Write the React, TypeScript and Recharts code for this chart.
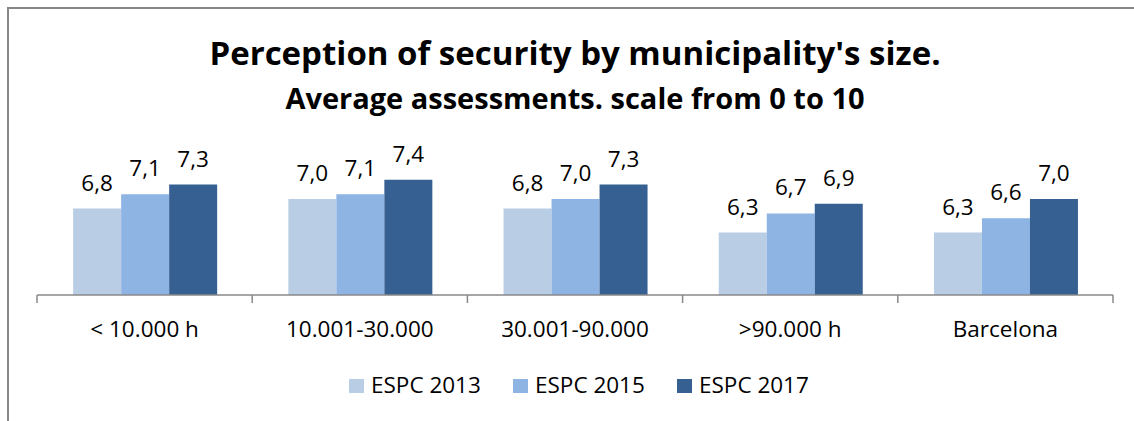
import { BarChart, Bar, XAxis, YAxis, Legend, LabelList } from 'recharts';

const categories = ['< 10.000 h', '10.001-30.000', '30.001-90.000', '>90.000 h', 'Barcelona'];
const espc2013 = [6.8, 7.0, 6.8, 6.3, 6.3];
const espc2015 = [7.1, 7.1, 7.0, 6.7, 6.6];
const espc2017 = [7.3, 7.4, 7.3, 6.9, 7.0];
const seriesNames = ['ESPC 2013', 'ESPC 2015', 'ESPC 2017'];
const seriesColors = ['#B9CDE5', '#8EB4E3', '#376092'];

const data = categories.map((name, i) => ({
  name,
  s2013: espc2013[i],
  s2015: espc2015[i],
  s2017: espc2017[i],
}));

const FONT = "'Open Sans', sans-serif";
const W = 1134;
const H = 421;
const MARGIN = { top: 151, right: 21, bottom: 22, left: 37 };
const BAND = (W - MARGIN.left - MARGIN.right) / categories.length;
const TICK_MARGIN = 26;
const fmt = (v: any) => Number(v).toFixed(1).replace('.', ',');

// category label plus Excel-style tick marks on the category boundaries
function CategoryTick(props: any) {
  const { x, y, payload, index } = props;
  const axisY = y - TICK_MARGIN;
  const last = index === categories.length - 1;
  return (
    <g>
      <line x1={x - BAND / 2} x2={x - BAND / 2} y1={axisY} y2={axisY + 8} stroke="#898989" strokeWidth={1.5} />
      {last && <line x1={x + BAND / 2} x2={x + BAND / 2} y1={axisY} y2={axisY + 8} stroke="#898989" strokeWidth={1.5} />}
      <text x={x} y={y} dy="0.71em" textAnchor="middle" fill="#000" fontSize={22.5} fontFamily={FONT}>
        {payload.value}
      </text>
    </g>
  );
}

function LegendContent(props: any) {
  const items = props.payload || [];
  return (
    <div style={{ display: 'flex', height: 30, alignItems: 'center', paddingLeft: 312, fontFamily: FONT, fontSize: 22.5 }}>
      {items.map((it: any) => (
        <div key={it.value} style={{ width: 164, display: 'flex', alignItems: 'center' }}>
          <span style={{ width: 15, height: 14, background: it.color, marginRight: 7, position: 'relative', top: 2 }} />
          <span style={{ color: '#000' }}>{it.value}</span>
        </div>
      ))}
    </div>
  );
}

export default function App() {
  const keys = ['s2013', 's2015', 's2017'];
  return (
    <div style={{ position: 'absolute', left: 0, top: 0, width: W, height: H, overflow: 'hidden', background: '#fff' }}>
      <div style={{ position: 'absolute', left: 7, top: 7, width: 1140, height: 420, borderTop: '2px solid #878787', borderLeft: '2px solid #878787' }} />
      <div style={{ position: 'absolute', left: 75, top: 30, width: 1000, textAlign: 'center', fontFamily: FONT, fontWeight: 700, fontSize: 33, color: '#000' }}>
        Perception of security by municipality's size.
      </div>
      <div style={{ position: 'absolute', left: 75, top: 78, width: 1000, textAlign: 'center', fontFamily: FONT, fontWeight: 700, fontSize: 29, color: '#000' }}>
        Average assessments. scale from 0 to 10
      </div>
      <div style={{ position: 'absolute', left: 0, top: 0 }}>
        <BarChart
          width={W}
          height={H}
          data={data}
          margin={MARGIN}
          barCategoryGap="16.8%"
          barGap={0}
        >
          <XAxis
            dataKey="name"
            height={74}
            axisLine={{ stroke: '#898989', strokeWidth: 1.5 }}
            tickLine={false}
            tickSize={0}
            tickMargin={TICK_MARGIN}
            interval={0}
            tick={<CategoryTick />}
          />
          <YAxis hide type="number" domain={[5, 8]} allowDataOverflow />
          <Legend verticalAlign="bottom" content={<LegendContent />} />
          {keys.map((k, i) => (
            <Bar key={k} dataKey={k} name={seriesNames[i]} fill={seriesColors[i]} isAnimationActive={false}>
              <LabelList
                dataKey={k}
                position="top"
                offset={18}
                formatter={fmt}
                style={{ fill: '#000', fontSize: 22.5, fontFamily: FONT }}
              />
            </Bar>
          ))}
        </BarChart>
      </div>
    </div>
  );
}
